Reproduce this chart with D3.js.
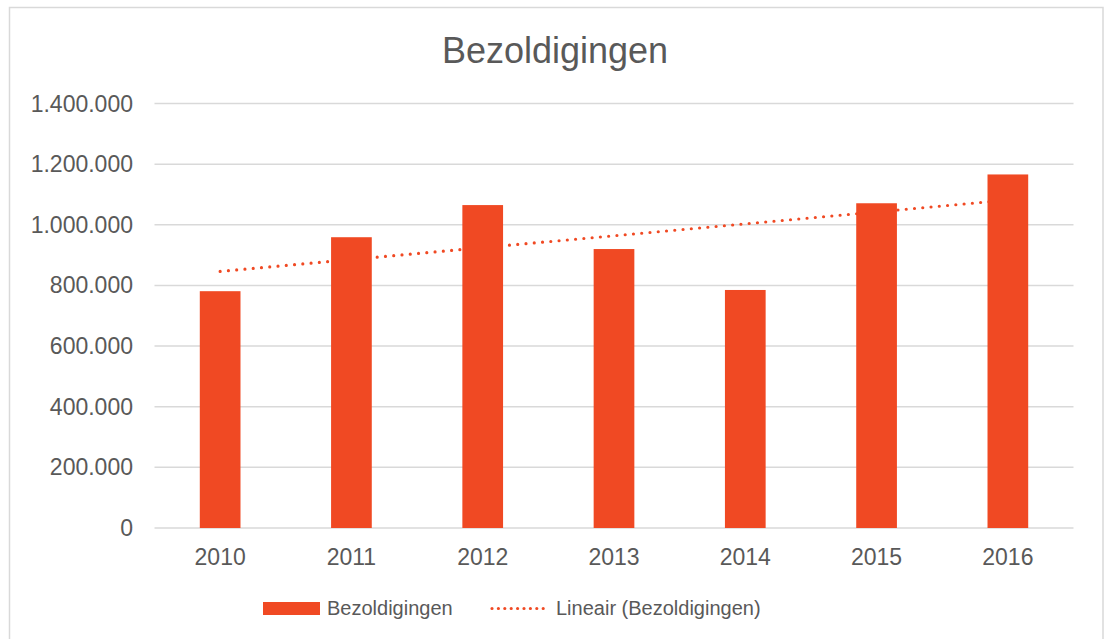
<!DOCTYPE html>
<html>
<head>
<meta charset="utf-8">
<script src="https://cdn.jsdelivr.net/npm/d3@7"></script>
<style>
  body { margin: 0; background: #fff; }
  text { font-family: "Liberation Sans", Arial, sans-serif; fill: #595959; }
</style>
</head>
<body>
<svg id="chart" width="1107" height="639"></svg>
<script>
// data
var years = ["2010", "2011", "2012", "2013", "2014", "2015", "2016"]
var bezoldigingen = [781000, 959000, 1065000, 920000, 785000, 1071000, 1166000]
var yTicks = [0, 200000, 400000, 600000, 800000, 1000000, 1200000, 1400000]
var title = "Bezoldigingen"
var seriesName = "Bezoldigingen"
var trendName = "Lineair (Bezoldigingen)"

var barColor = "#f04923"
var gridColor = "#d9d9d9"

var svg = d3.select("#chart")

// chart border
svg.append("rect")
    .attr("x", 9.5).attr("y", 7.5)
    .attr("width", 1093.5).attr("height", 640)
    .attr("fill", "none")
    .attr("stroke", gridColor)
    .attr("stroke-width", 1.5)

var x = d3.scaleBand()
    .domain(years)
    .range([154.5, 1073.5])
    .paddingInner(0.69)
    .paddingOuter(0.345)

var y = d3.scaleLinear()
    .domain([0, 1400000])
    .range([528, 103.5])

// dutch number format: 1.400.000
var fmt = function(v) {
    return d3.format(",")(v).replace(/,/g, ".")
}

svg.append("text")
    .attr("x", 555).attr("y", 63)
    .attr("text-anchor", "middle")
    .attr("font-size", "36px")
    .text(title)

// grid lines
svg.append("g").selectAll("line")
    .data(yTicks)
    .enter().append("line")
    .attr("x1", 154.5).attr("x2", 1073.5)
    .attr("y1", function(d) { return y(d) })
    .attr("y2", function(d) { return y(d) })
    .attr("stroke", gridColor)
    .attr("stroke-width", 1.5)

// y labels
svg.append("g").selectAll("text")
    .data(yTicks)
    .enter().append("text")
    .attr("x", 133)
    .attr("y", function(d) { return y(d) })
    .attr("dy", "0.35em")
    .attr("text-anchor", "end")
    .attr("font-size", "23px")
    .text(fmt)

// x labels
svg.append("g").selectAll("text")
    .data(years)
    .enter().append("text")
    .attr("x", function(d) { return x(d) + x.bandwidth() / 2 })
    .attr("y", 565)
    .attr("text-anchor", "middle")
    .attr("font-size", "23px")
    .text(function(d) { return d })

// linear trend (least squares over the bars, like excel does)
var n = bezoldigingen.length
var xs = d3.range(n)
var mx = d3.mean(xs), my = d3.mean(bezoldigingen)
var slope = d3.sum(xs, function(i) { return (i - mx) * (bezoldigingen[i] - my) }) /
            d3.sum(xs, function(i) { return (i - mx) * (i - mx) })
var icpt = my - slope * mx

var cx = function(i) { return x(years[i]) + x.bandwidth() / 2 }
svg.append("line")
    .attr("x1", cx(0)).attr("y1", y(icpt))
    .attr("x2", cx(n - 1)).attr("y2", y(icpt + slope * (n - 1)))
    .attr("stroke", barColor)
    .attr("stroke-width", 3.2)
    .attr("stroke-linecap", "round")
    .attr("stroke-dasharray", "0 8.3")

// bars
svg.append("g").selectAll("rect")
    .data(bezoldigingen)
    .enter().append("rect")
    .attr("x", function(d, i) { return x(years[i]) })
    .attr("width", x.bandwidth())
    .attr("y", function(d) { return y(d) })
    .attr("height", function(d) { return y(0) - y(d) })
    .attr("fill", barColor)

// legend
var lg = svg.append("g")
lg.append("rect")
    .attr("x", 263).attr("y", 602)
    .attr("width", 57).attr("height", 13)
    .attr("fill", barColor)
lg.append("text")
    .attr("x", 327).attr("y", 615)
    .attr("font-size", "20px")
    .text(seriesName)
lg.append("line")
    .attr("x1", 492).attr("x2", 544)
    .attr("y1", 608.5).attr("y2", 608.5)
    .attr("stroke", barColor)
    .attr("stroke-width", 3.2)
    .attr("stroke-linecap", "round")
    .attr("stroke-dasharray", "0 6.4")
lg.append("text")
    .attr("x", 556).attr("y", 615)
    .attr("font-size", "20px")
    .text(trendName)
</script>
</body>
</html>
